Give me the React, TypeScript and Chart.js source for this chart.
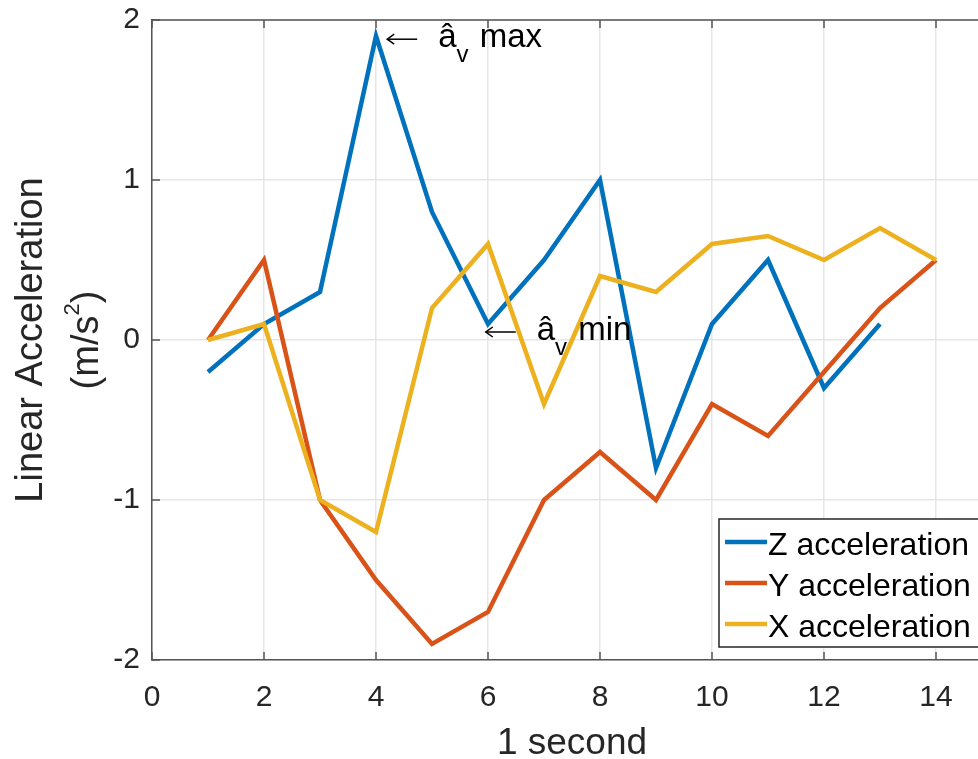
import React, { useEffect, useRef } from "react";
import { Chart, registerables } from "chart.js";

Chart.register(...registerables);

// ---- data ----
const seconds = [1, 2, 3, 4, 5, 6, 7, 8, 9, 10, 11, 12, 13, 14];
const zAccel = [-0.2, 0.1, 0.3, 1.9, 0.8, 0.1, 0.5, 1.0, -0.8, 0.1, 0.5, -0.3, 0.1];
const yAccel = [0, 0.5, -1.0, -1.5, -1.9, -1.7, -1.0, -0.7, -1.0, -0.4, -0.6, -0.2, 0.2, 0.5];
const xAccel = [0, 0.1, -1.0, -1.2, 0.2, 0.6, -0.4, 0.4, 0.3, 0.6, 0.65, 0.5, 0.7, 0.5];
const seriesLabels = ["Z acceleration", "Y acceleration", "X acceleration"];
const seriesColors = ["#0072BD", "#D95319", "#EDB120"];
const xTickValues = [0, 2, 4, 6, 8, 10, 12, 14];
const yTickValues = [-2, -1, 0, 1, 2];
const xRange = [0, 15];
const yRange = [-2, 2];
const xTitle = "1 second";
const yTitleLine1 = "Linear Acceleration";
const yTitleLine2 = ["(m/s", "2", ")"];
const annotations = [
  { word: "max", x: 4.2, y: 1.88 },
  { word: "min", x: 5.96, y: 0.05 },
];

const FONT = '"Liberation Sans", Arial, Helvetica, sans-serif';
const TEXT = "#262626";
const AXIS = "#555555";

const toPoints = (vals: number[]) => vals.map((v, i) => ({ x: seconds[i], y: v }));

const decorPlugin = {
  id: "decor",
  afterDraw(chart: any) {
    const { ctx, chartArea: ca, scales } = chart;
    const xs = scales.x;
    const ys = scales.y;
    ctx.save();

    // top border
    ctx.strokeStyle = AXIS;
    ctx.lineWidth = 1.5;
    ctx.beginPath();
    ctx.moveTo(ca.left, ca.top);
    ctx.lineTo(ca.right, ca.top);
    ctx.stroke();

    // inward tick marks
    const tl = 8;
    ctx.beginPath();
    xTickValues.forEach((v) => {
      const px = xs.getPixelForValue(v);
      ctx.moveTo(px, ca.bottom);
      ctx.lineTo(px, ca.bottom - tl);
      ctx.moveTo(px, ca.top);
      ctx.lineTo(px, ca.top + tl);
    });
    yTickValues.forEach((v) => {
      const py = ys.getPixelForValue(v);
      ctx.moveTo(ca.left, py);
      ctx.lineTo(ca.left + tl, py);
    });
    ctx.stroke();

    // annotations
    annotations.forEach((a) => {
      const ax = xs.getPixelForValue(a.x);
      const ay = ys.getPixelForValue(a.y);
      ctx.fillStyle = "#000";
      ctx.textAlign = "left";
      // arrow
      ctx.strokeStyle = "#000";
      ctx.lineWidth = 1.5;
      ctx.beginPath();
      ctx.moveTo(ax, ay);
      ctx.lineTo(ax + 30, ay);
      ctx.stroke();
      ctx.beginPath();
      ctx.moveTo(ax + 7, ay - 5);
      ctx.lineTo(ax, ay);
      ctx.lineTo(ax + 7, ay + 5);
      ctx.stroke();
      ctx.textBaseline = "alphabetic";
      ctx.font = `33px ${FONT}`;
      let cx = ax + 51;
      ctx.fillText("â", cx, ay + 8);
      cx += ctx.measureText("â").width;
      ctx.font = `24px ${FONT}`;
      ctx.fillText("v", cx, ay + 23);
      cx += ctx.measureText("v").width;
      ctx.font = `33px ${FONT}`;
      cx += ctx.measureText(" ").width + 2;
      ctx.fillText(a.word, cx, ay + 8);
    });

    // axis titles
    ctx.fillStyle = TEXT;
    ctx.font = `37px ${FONT}`;
    ctx.textAlign = "center";
    ctx.textBaseline = "alphabetic";
    ctx.fillText(xTitle, (ca.left + ca.right) / 2, 754);

    const cy = (ca.top + ca.bottom) / 2;
    ctx.save();
    ctx.translate(42, cy);
    ctx.rotate(-Math.PI / 2);
    ctx.font = `38px ${FONT}`;
    ctx.textAlign = "center";
    ctx.fillText(yTitleLine1, 0, 0);
    ctx.restore();

    ctx.save();
    ctx.translate(98, cy);
    ctx.rotate(-Math.PI / 2);
    ctx.textAlign = "left";
    ctx.font = `38px ${FONT}`;
    const w0 = ctx.measureText(yTitleLine2[0]).width;
    const w2 = ctx.measureText(yTitleLine2[2]).width;
    ctx.font = `22px ${FONT}`;
    const w1 = ctx.measureText(yTitleLine2[1]).width;
    let tx = -(w0 + w1 + w2) / 2;
    ctx.font = `38px ${FONT}`;
    ctx.fillText(yTitleLine2[0], tx, 0);
    tx += w0;
    ctx.font = `22px ${FONT}`;
    ctx.fillText(yTitleLine2[1], tx, -19);
    tx += w1;
    ctx.font = `38px ${FONT}`;
    ctx.fillText(yTitleLine2[2], tx, 0);
    ctx.restore();

    // legend
    const lx = ca.right - 273;
    const ly = ca.bottom - 141;
    ctx.fillStyle = "#ffffff";
    ctx.fillRect(lx, ly, 290, 128);
    ctx.strokeStyle = "#262626";
    ctx.lineWidth = 1.5;
    ctx.strokeRect(lx, ly, 290, 128);
    chart.data.datasets.forEach((ds: any, i: number) => {
      const base = ly + 36 + i * 41;
      ctx.strokeStyle = ds.borderColor;
      ctx.lineWidth = 4.5;
      ctx.beginPath();
      ctx.moveTo(lx + 6, base - 13);
      ctx.lineTo(lx + 48, base - 13);
      ctx.stroke();
      ctx.fillStyle = "#000";
      ctx.font = `32px ${FONT}`;
      ctx.textAlign = "left";
      ctx.textBaseline = "alphabetic";
      ctx.fillText(ds.label, lx + 49, base);
    });

    ctx.restore();
  },
};

export default function App() {
  const ref = useRef<HTMLCanvasElement | null>(null);

  useEffect(() => {
    if (!ref.current) return;
    const series = [zAccel, yAccel, xAccel];
    const chart = new Chart(ref.current, {
      type: "line",
      data: {
        datasets: series.map((vals, i) => ({
          label: seriesLabels[i],
          data: toPoints(vals),
          borderColor: seriesColors[i],
          backgroundColor: seriesColors[i],
          borderWidth: 4.5,
          pointRadius: 0,
          tension: 0,
          fill: false,
          borderJoinStyle: "miter" as const,
          order: 3 - i,
        })),
      },
      options: {
        responsive: false,
        animation: false,
        devicePixelRatio: 1,
        layout: { padding: { top: 20, right: 8, left: 0, bottom: 0 }, autoPadding: false },
        plugins: { legend: { display: false }, tooltip: { enabled: false } },
        scales: {
          x: {
            type: "linear",
            min: xRange[0],
            max: xRange[1],
            afterBuildTicks: (s: any) => {
              s.ticks = xTickValues.map((v) => ({ value: v }));
            },
            afterFit: (s: any) => {
              s.height = 99;
              s.paddingLeft = 0;
              s.paddingRight = 0;
            },
            grid: { color: "#e6e6e6", lineWidth: 1.5, drawTicks: false },
            border: { display: true, color: AXIS, width: 1.5 },
            ticks: {
              color: TEXT,
              font: { family: FONT, size: 30 },
              padding: 20,
              maxRotation: 0,
              autoSkip: false,
            },
          },
          y: {
            type: "linear",
            min: yRange[0],
            max: yRange[1],
            afterBuildTicks: (s: any) => {
              s.ticks = yTickValues.map((v) => ({ value: v }));
            },
            afterFit: (s: any) => {
              s.width = 152;
              s.paddingTop = 0;
              s.paddingBottom = 0;
            },
            grid: { color: "#e6e6e6", lineWidth: 1.5, drawTicks: false },
            border: { display: true, color: AXIS, width: 1.5 },
            ticks: {
              color: TEXT,
              font: { family: FONT, size: 30 },
              padding: 12,
              autoSkip: false,
            },
          },
        },
      },
      plugins: [decorPlugin],
    });
    return () => chart.destroy();
  }, []);

  return (
    <div
      style={{
        position: "absolute",
        left: 0,
        top: 0,
        width: 978,
        height: 759,
        overflow: "hidden",
        background: "#fff",
      }}
    >
      <canvas ref={ref} width={1000} height={759} style={{ display: "block", width: 1000, height: 759 }} />
    </div>
  );
}
